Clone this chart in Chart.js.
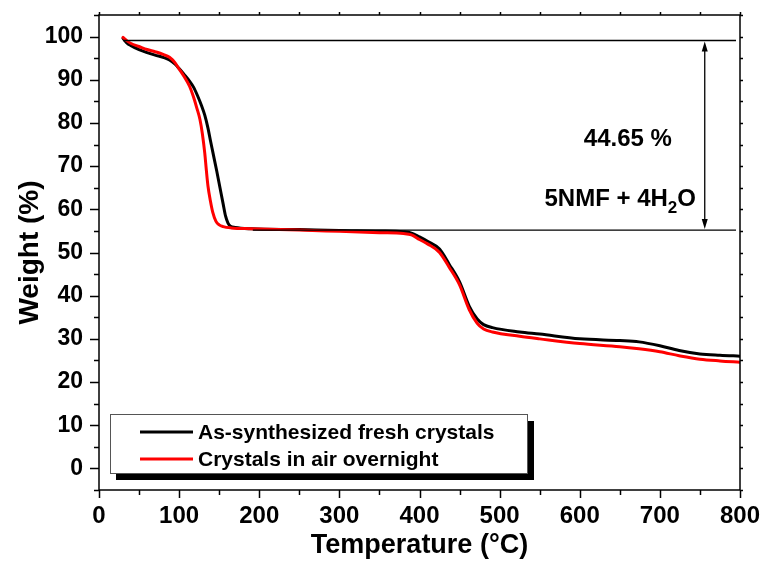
<!DOCTYPE html>
<html>
<head>
<meta charset="utf-8">
<script src="https://cdn.jsdelivr.net/npm/chart.js@4.4.0/dist/chart.umd.min.js"></script>
<style>
  html, body { margin: 0; padding: 0; background: #fff; }
  #wrap { width: 766px; height: 572px; }
</style>
</head>
<body>
<div id="wrap"><canvas id="tgaChart" width="766" height="572"></canvas></div>
<script>
// TGA curves: temperature (°C) vs. remaining weight (%)
const tempFresh = [30, 35, 40, 50, 60, 70, 80, 88, 95, 100, 106, 113, 118, 123, 128, 132, 136, 139, 142, 147, 151, 155, 158, 161, 164, 170, 190, 250, 300, 350, 380, 390, 400, 410, 425, 437, 450, 462, 472, 480, 491, 525, 550, 600, 650, 674, 700, 724, 750, 775, 800];
const weightFresh = [99.6, 98.5, 97.9, 97.0, 96.3, 95.7, 95.2, 94.6, 93.6, 92.6, 91.3, 89.7, 88.3, 86.3, 84.0, 81.8, 78.8, 76.0, 73.3, 68.8, 65.0, 61.2, 58.4, 56.8, 56.1, 55.8, 55.5, 55.3, 55.1, 55.0, 54.8, 54.5, 53.6, 52.6, 50.8, 47.3, 43.2, 37.6, 34.6, 33.3, 32.6, 31.6, 31.1, 30.0, 29.6, 29.3, 28.4, 27.3, 26.5, 26.2, 26.0];

const tempAir = [30, 35, 40, 50, 60, 70, 80, 88, 95, 100, 106, 113, 118, 122, 126, 129, 132, 134, 136, 139, 142, 146, 150, 155, 165, 190, 250, 300, 350, 380, 390, 400, 410, 425, 437, 450, 462, 472, 480, 491, 525, 550, 600, 650, 674, 700, 724, 750, 775, 800];
const weightAir = [99.8, 99.0, 98.4, 97.7, 97.0, 96.5, 95.9, 95.2, 93.9, 92.5, 90.8, 88.5, 86.0, 83.5, 80.8, 77.5, 73.0, 69.0, 65.4, 62.0, 59.3, 57.2, 56.4, 56.0, 55.7, 55.5, 55.2, 54.9, 54.6, 54.4, 54.1, 53.0, 52.0, 50.0, 46.6, 42.5, 36.8, 33.6, 32.3, 31.6, 30.6, 30.0, 28.9, 28.2, 27.7, 27.0, 26.1, 25.3, 24.9, 24.6];

const xTicks = [0, 100, 200, 300, 400, 500, 600, 700, 800];
const yTicks = [0, 10, 20, 30, 40, 50, 60, 70, 80, 90, 100];

// first mass-loss step (solvent release)
const stepUpper = 99.1;
const stepLower = 55.2;
const upperLineFrom = 30;
const lowerLineFrom = 192;
const stepLineTo = 795;
const arrowTemp = 756;
const lossText = '44.65 %';
const lossTextPos = [660, 74.6];
const formulaPos = [556, 60.7];

const FONT = '"Liberation Sans", Arial, Helvetica, sans-serif';

function toPoints(xs, ys) {
  return xs.map((t, i) => ({ x: t, y: ys[i] }));
}

function boldFont(size) {
  return 'bold ' + size + 'px ' + FONT;
}

const framePlugin = {
  id: 'framePlugin',
  afterDatasetsDraw(chart) {
    const { ctx, scales: { x, y } } = chart;
    ctx.save();
    ctx.strokeStyle = '#000';
    ctx.fillStyle = '#000';
    ctx.lineWidth = 1.3;

    // step lines
    const yU = y.getPixelForValue(stepUpper);
    const yL = y.getPixelForValue(stepLower);
    ctx.beginPath();
    ctx.moveTo(x.getPixelForValue(upperLineFrom), yU);
    ctx.lineTo(x.getPixelForValue(stepLineTo), yU);
    ctx.moveTo(x.getPixelForValue(lowerLineFrom), yL);
    ctx.lineTo(x.getPixelForValue(stepLineTo), yL);
    ctx.stroke();

    // double arrow
    const ax = x.getPixelForValue(arrowTemp);
    ctx.beginPath();
    ctx.moveTo(ax, yU + 8);
    ctx.lineTo(ax, yL - 8);
    ctx.stroke();
    ctx.beginPath();
    ctx.moveTo(ax, yU + 1);
    ctx.lineTo(ax - 3, yU + 11);
    ctx.lineTo(ax + 3, yU + 11);
    ctx.closePath();
    ctx.moveTo(ax, yL - 1);
    ctx.lineTo(ax - 3, yL - 11);
    ctx.lineTo(ax + 3, yL - 11);
    ctx.closePath();
    ctx.fill();

    // labels of the step
    ctx.textBaseline = 'alphabetic';
    ctx.font = boldFont(24);
    ctx.textAlign = 'center';
    ctx.fillText(lossText, x.getPixelForValue(lossTextPos[0]), y.getPixelForValue(lossTextPos[1]));
    ctx.textAlign = 'left';
    let fx = x.getPixelForValue(formulaPos[0]);
    const fy = y.getPixelForValue(formulaPos[1]);
    const parts = [['5NMF + 4H', 24, 0], ['2', 17, 7], ['O', 24, 0]];
    parts.forEach(([txt, size, dy]) => {
      ctx.font = boldFont(size);
      ctx.fillText(txt, fx, fy + dy);
      fx += ctx.measureText(txt).width;
    });
    ctx.restore();
  },
  afterDraw(chart) {
    const { ctx, chartArea: a, scales: { x, y } } = chart;
    ctx.save();
    ctx.strokeStyle = '#000';
    ctx.lineWidth = 1.5;
    ctx.strokeRect(a.left, a.top, a.right - a.left, a.bottom - a.top);

    // tick marks on all four sides
    ctx.beginPath();
    for (let v = 0; v <= 800; v += 50) {
      const px = Math.round(x.getPixelForValue(v)) + 0.5;
      const len = v % 100 === 0 ? 8 : 5;
      ctx.moveTo(px, a.bottom);
      ctx.lineTo(px, a.bottom + len);
      ctx.moveTo(px, a.top);
      ctx.lineTo(px, a.top - 3);
    }
    for (let v = -5; v <= 105; v += 5) {
      const py = Math.round(y.getPixelForValue(v)) + 0.5;
      const len = (v % 10 === 0 && v >= 0 && v <= 100) ? 9 : 5;
      ctx.moveTo(a.left, py);
      ctx.lineTo(a.left - len, py);
      ctx.moveTo(a.right, py);
      ctx.lineTo(a.right + 3, py);
    }
    ctx.stroke();

    // legend with drop shadow
    const bx = 110, by = 414, bw = 417, bh = 59;
    ctx.fillStyle = '#000';
    ctx.fillRect(bx + 6, by + 7, bw + 1, bh);
    ctx.fillStyle = '#fff';
    ctx.fillRect(bx, by, bw, bh);
    ctx.strokeStyle = '#555';
    ctx.lineWidth = 1;
    ctx.strokeRect(bx + 0.5, by + 0.5, bw, bh);

    ctx.font = boldFont(21);
    ctx.textBaseline = 'middle';
    ctx.textAlign = 'left';
    chart.data.datasets.forEach((ds, i) => {
      const ry = 432 + i * 27;
      ctx.strokeStyle = ds.borderColor;
      ctx.lineWidth = 3;
      ctx.beginPath();
      ctx.moveTo(140, ry);
      ctx.lineTo(193, ry);
      ctx.stroke();
      ctx.fillStyle = '#000';
      ctx.fillText(ds.label, 198, ry + 1);
    });
    ctx.restore();
  }
};

const ctx = document.getElementById('tgaChart').getContext('2d');
const tgaChart = new Chart(ctx, {
  type: 'line',
  data: {
    datasets: [
      {
        label: 'As-synthesized fresh crystals',
        data: toPoints(tempFresh, weightFresh),
        borderColor: '#000000',
        borderWidth: 3,
        pointRadius: 0,
        cubicInterpolationMode: 'monotone',
        borderCapStyle: 'round',
        order: 1
      },
      {
        label: 'Crystals in air overnight',
        data: toPoints(tempAir, weightAir),
        borderColor: '#ff0000',
        borderWidth: 3,
        pointRadius: 0,
        cubicInterpolationMode: 'monotone',
        borderCapStyle: 'round',
        order: 0
      }
    ]
  },
  options: {
    responsive: false,
    animation: false,
    devicePixelRatio: 1,
    layout: { padding: { top: 15, right: 26, left: 0, bottom: 0 } },
    plugins: {
      legend: { display: false },
      tooltip: { enabled: false }
    },
    scales: {
      x: {
        type: 'linear',
        position: 'bottom',
        min: 0,
        max: 800,
        afterFit: (s) => {
          s.height = 82;
          s.paddingLeft = 0;
          s.paddingRight = 0;
        },
        afterBuildTicks: (s) => { s.ticks = xTicks.map(v => ({ value: v })); },
        grid: { display: false, drawTicks: false },
        border: { display: false },
        ticks: {
          color: '#000',
          font: { family: FONT, size: 24, weight: 'bold' },
          padding: 12,
          maxRotation: 0,
          autoSkip: false
        },
        title: {
          display: true,
          text: 'Temperature (°C)',
          color: '#000',
          font: { family: FONT, size: 27, weight: 'bold' },
          padding: { top: 0, bottom: 10 }
        }
      },
      y: {
        type: 'linear',
        position: 'left',
        min: -5,
        max: 105,
        afterFit: (s) => {
          s.width = 99;
          s.paddingTop = 0;
          s.paddingBottom = 0;
        },
        afterBuildTicks: (s) => { s.ticks = yTicks.map(v => ({ value: v })); },
        grid: { display: false, drawTicks: false },
        border: { display: false },
        ticks: {
          color: '#000',
          font: { family: FONT, size: 23, weight: 'bold' },
          padding: 16,
          autoSkip: false
        },
        title: {
          display: true,
          text: 'Weight (%)',
          color: '#000',
          font: { family: FONT, size: 28, weight: 'bold' },
          padding: { top: 13, bottom: 0 }
        }
      }
    }
  },
  plugins: [framePlugin]
});
</script>
</body>
</html>
